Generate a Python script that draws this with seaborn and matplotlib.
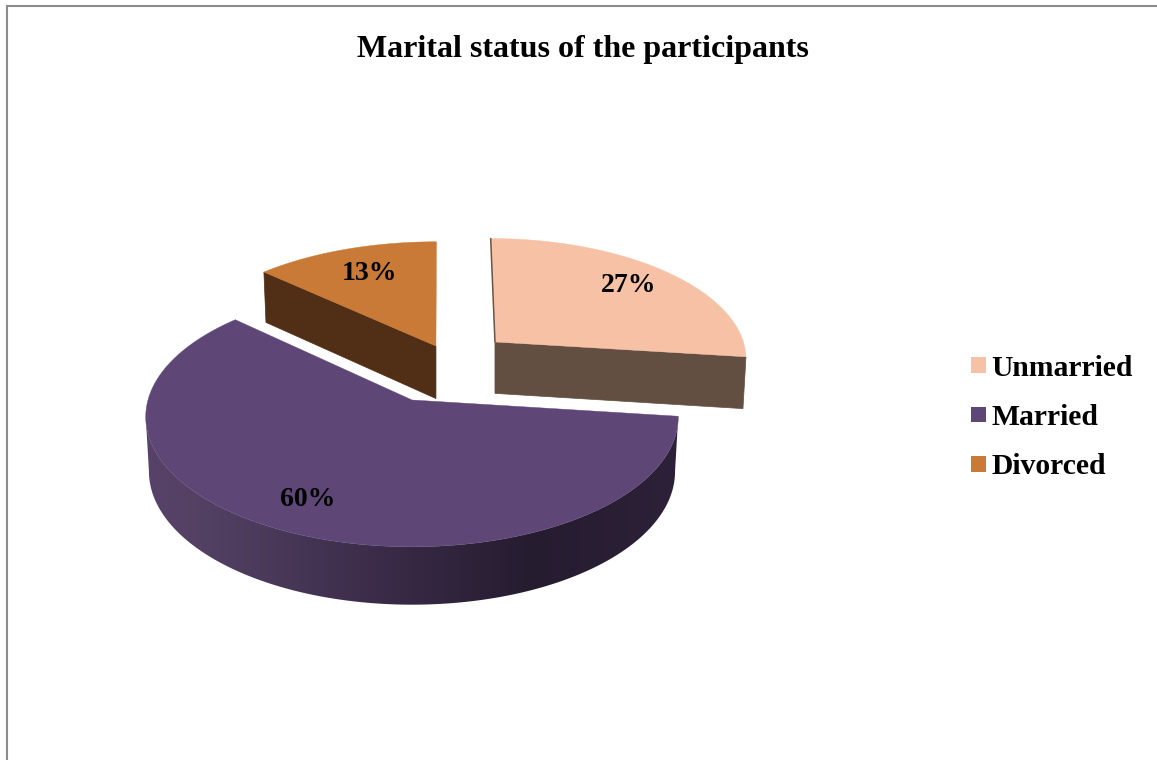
import numpy as np
import matplotlib
matplotlib.use("Agg")
import matplotlib.pyplot as plt
from matplotlib.colors import LinearSegmentedColormap
from matplotlib.patches import Patch, Polygon
import seaborn as sns

# ---- data ----
categories = ["Unmarried", "Married", "Divorced"]
percentages = [27, 60, 13]
title_text = "Marital status of the participants"

# ---- style ----
top_colors = sns.color_palette(["#F6C1A5", "#5E4777", "#C97A36"])
side_colors = {"Unmarried": "#634E42", "Divorced": "#512E16"}
explode = {"Unmarried": (0.334, -0.483), "Married": (0.0, 0.0), "Divorced": (0.096, -0.447)}
# rim adjustments per slice: x scale, y scale, shear
rim_fit = {"Unmarried": (1.0, 1.03, -0.022), "Married": (1.0, 1.0, 0.0), "Divorced": (1.03, 1.03, -0.014)}
depths = {"Unmarried": 53.0, "Married": 54.0, "Divorced": 54.0}
label_xy = {"Unmarried": (629, 286), "Married": (308, 500), "Divorced": (370, 274)}

sns.set_theme(style="white")
plt.rcParams["font.family"] = ["Liberation Serif", "DejaVu Serif"]

fig = plt.figure(figsize=(11.57, 7.6), dpi=100, facecolor="white")
ax = fig.add_axes([0, 0, 1, 1])
ax.set_xlim(0, 1157)
ax.set_ylim(760, 0)
ax.axis("off")

# perspective projection of the pie plane to the picture
CX, CY, RX, RY, K = 412.0, 400.0, 264.0, 127.7, 0.13
SHRINK = 0.988


def project(X, Y):
    w = 1 - K * Y
    return CX + RX * X / w, CY + RY * Y / w, w


def slice_geometry(cat, n=200):
    i = categories.index(cat)
    cum = np.cumsum([0] + percentages) * 3.6
    t = np.radians(np.linspace(cum[i], cum[i + 1], n))
    ox, oy = explode[cat]
    sx, sy, sh = rim_fit[cat]
    dy = -np.cos(t) * sy
    dx = np.sin(t) * sx + sh * dy
    x, y, w = project(ox + dx, oy + dy)
    px, py, pw = project(np.array([ox]), np.array([oy]))
    return x, y, w, px[0], py[0], pw[0]


def extrude(x, y, w, apex_x, depth):
    return apex_x + (x - apex_x) * SHRINK, y + depth / np.sqrt(w)


# border of the chart area
ax.plot([7, 7, 1157], [760, 6, 6], color="#8C8C8C", lw=1.5, solid_joinstyle="miter")

# Unmarried: flat cut face in front, thin sliver on the left
x, y, w, px, py, pw = slice_geometry("Unmarried")
ex, ey = extrude(x[-1], y[-1], w[-1], px, depths["Unmarried"])
bx, by = extrude(px, py, pw, px, depths["Unmarried"])
ax.fill([px, x[-1], ex, bx], [py, y[-1], ey, by], color=side_colors["Unmarried"], lw=0.5)
ax.plot([x[0], px], [y[0], py], color="#6B5548", lw=1.1)
ax.fill(np.r_[px, x], np.r_[py, y], color=top_colors[0], lw=0.3)

# Divorced: cut face on the left
x, y, w, px, py, pw = slice_geometry("Divorced")
ex, ey = extrude(x[0], y[0], w[0], px, depths["Divorced"])
bx, by = extrude(px, py, pw, px, depths["Divorced"])
ax.fill([px, x[0], ex, bx], [py, y[0], ey, by], color=side_colors["Divorced"], lw=0.5)
ax.fill(np.r_[px, x], np.r_[py, y], color=top_colors[2], lw=0.3)

# Married: shaded curved rim (front part only), then top face
x, y, w, px, py, pw = slice_geometry("Married", n=500)
ex, ey = extrude(x, y, w, px, depths["Married"])
k = int(np.argmin(x)) + 1
shade = LinearSegmentedColormap.from_list(
    "rim",
    [(0.0, "#574369"), (0.12, "#524062"), (0.45, "#3A2B48"), (0.72, "#261C30"), (1.0, "#2C2138")],
)
gradient = np.linspace(0, 1, 532)[None, :]
img = ax.imshow(gradient, cmap=shade, extent=(146, 678, 620, 400), aspect="auto", zorder=1.5)
ax.set_xlim(0, 1157)
ax.set_ylim(760, 0)
rim_clip = Polygon(np.c_[np.r_[x[:k], ex[:k][::-1]], np.r_[y[:k], ey[:k][::-1]]], closed=True,
                   transform=ax.transData, facecolor="none", edgecolor="none")
ax.add_patch(rim_clip)
img.set_clip_path(rim_clip)
ax.fill(np.r_[px, x], np.r_[py, y], color=top_colors[1], lw=0.3, zorder=2)

# percentage labels
for cat, pct in zip(categories, percentages):
    lx, ly = label_xy[cat]
    ax.text(lx, ly, f"{pct}%", ha="center", va="center", fontsize=20,
            fontweight="bold", color="black", zorder=3)

# title
ax.text(583, 50, title_text, ha="center", va="center", fontsize=23,
        fontweight="bold", color="black")

# legend
handles = [Patch(facecolor=c, edgecolor="none", label=n) for c, n in zip(top_colors, categories)]
ax.legend(handles=handles, loc="center left", bbox_to_anchor=(971 / 1157, 1 - 417.5 / 760),
          bbox_transform=fig.transFigure, frameon=False, labelcolor="black",
          prop={"weight": "bold", "size": 21.3}, handlelength=0.5, handleheight=0.413,
          handletextpad=0.2, labelspacing=0.76, borderpad=0, borderaxespad=0)

fig.savefig("out.png", dpi=100, facecolor="white")
